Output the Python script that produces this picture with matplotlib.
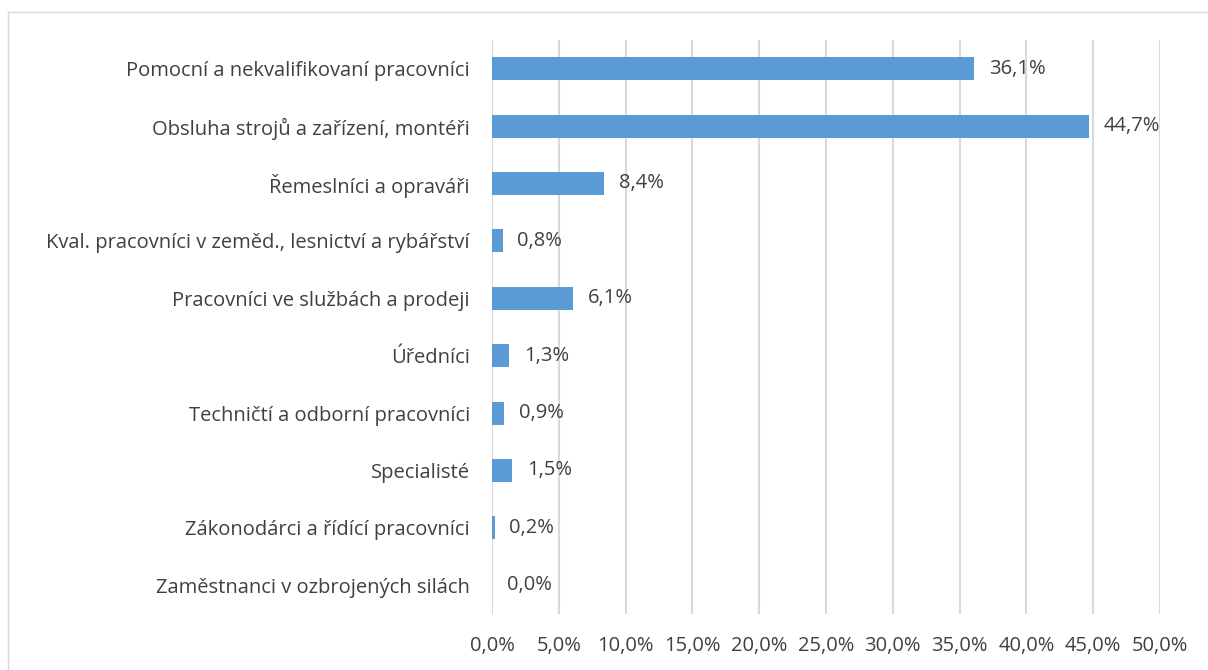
import matplotlib.pyplot as plt
from matplotlib.lines import Line2D

categories = [
    "Pomocní a nekvalifikovaní pracovníci",
    "Obsluha strojů a zařízení, montéři",
    "Řemeslníci a opraváři",
    "Kval. pracovníci v zeměd., lesnictví a rybářství",
    "Pracovníci ve službách a prodeji",
    "Úředníci",
    "Techničtí a odborní pracovníci",
    "Specialisté",
    "Zákonodárci a řídící pracovníci",
    "Zaměstnanci v ozbrojených silách",
]
values = [36.1, 44.7, 8.4, 0.8, 6.1, 1.3, 0.9, 1.5, 0.2, 0.0]
xticks = [0, 5, 10, 15, 20, 25, 30, 35, 40, 45, 50]

plt.rcParams['font.family'] = ['Open Sans', 'DejaVu Sans']
text_color = '#404040'
bar_color = '#5B9BD5'
fs = 14.5

fig = plt.figure(figsize=(12.08, 6.70), dpi=100)
ax = fig.add_axes([492 / 1208, 1 - 614 / 670, 668 / 1208, 574 / 670])

ypos = list(range(len(categories)))[::-1]
ax.barh(ypos, values, height=0.4, color=bar_color, zorder=3)
for y, v in zip(ypos, values):
    ax.text(v + 1.1, y, f"{v:.1f}%".replace('.', ','), va='center', ha='left',
            fontsize=fs, color=text_color)

ax.set_xlim(0, 50)
ax.set_ylim(-0.5, len(categories) - 0.5)
ax.set_xticks(xticks)
ax.set_xticklabels([f"{t:.1f}%".replace('.', ',') for t in xticks])
ax.set_yticks(ypos)
ax.set_yticklabels(categories)
ax.tick_params(axis='both', length=0, labelsize=fs, labelcolor=text_color)
ax.tick_params(axis='y', pad=16)
ax.tick_params(axis='x', pad=16)
ax.grid(axis='x', color='#D9D9D9', linewidth=1.5, zorder=0)
for s in ax.spines.values():
    s.set_visible(False)

# chart area border (top and left visible)
fig.add_artist(Line2D([8 / 1208, 1.0], [1 - 12 / 670, 1 - 12 / 670],
                      transform=fig.transFigure, color='#D9D9D9', linewidth=1))
fig.add_artist(Line2D([8 / 1208, 8 / 1208], [0.0, 1 - 12 / 670],
                      transform=fig.transFigure, color='#D9D9D9', linewidth=1))

fig.savefig('out.png', dpi=100)
